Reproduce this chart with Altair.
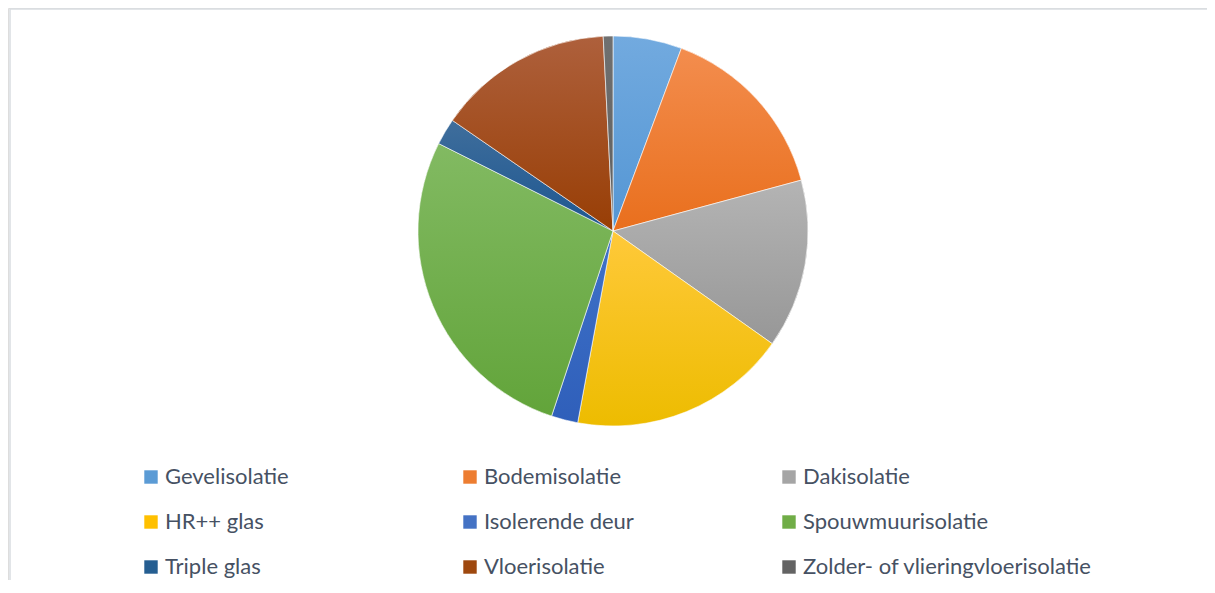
import altair as alt
import pandas as pd

categories = ["Gevelisolatie", "Bodemisolatie", "Dakisolatie", "HR++ glas", "Isolerende deur",
              "Spouwmuurisolatie", "Triple glas", "Vloerisolatie", "Zolder- of vlieringvloerisolatie"]
values = [5.7, 15.1, 14.0, 18.1, 2.2, 27.3, 2.2, 14.6, 0.8]
colors = ["#5B9BD5", "#ED7D31", "#A5A5A5", "#FFC000", "#4472C4", "#70AD47", "#255E91", "#9E480E", "#636363"]
top_colors = ["#72AADF", "#F38D4E", "#B4B4B4", "#FFC93A", "#3F72C8", "#82BA62", "#3F6E9C", "#AE603C", "#707070"]
bottom_colors = ["#5496D4", "#E96F1D", "#979797", "#EDBC00", "#2F5FBA", "#62A43A", "#1D5690", "#983E05", "#5E5E5E"]

total = sum(values)
df = pd.DataFrame({"categorie": categories, "waarde": values, "volgorde": list(range(len(categories)))})

CX, CY, R = 605, 223, 195

base = (
    alt.Chart(df)
    .transform_window(eind="sum(waarde)", sort=[alt.SortField("volgorde")], frame=[None, 0])
    .transform_calculate(begin="datum.eind - datum.waarde")
)
theta = alt.Theta("begin:Q", scale=alt.Scale(domain=[0, total]))
theta2 = alt.Theta2("eind:Q")

legend_layer = base.mark_arc(radius=R, stroke="white", strokeWidth=0.6).encode(
    theta=theta,
    theta2=theta2,
    x=alt.value(CX),
    y=alt.value(CY),
    color=alt.Color(
        "categorie:N",
        scale=alt.Scale(domain=categories, range=colors),
        sort=categories,
        legend=alt.Legend(
            title=None,
            orient="none",
            legendX=132,
            legendY=458,
            columns=3,
            direction="horizontal",
            gridAlign="all",
            columnPadding=5,
            rowPadding=23,
            symbolType="square",
            symbolSize=180,
            symbolStrokeWidth=0,
            labelFont="Lato",
            labelFontSize=22,
            labelColor="#465163",
            labelOffset=3,
            labelLimit=400,
        ),
    ),
)

layers = [legend_layer]
for cat, c_top, c_bot in zip(categories, top_colors, bottom_colors):
    grad = alt.Gradient(
        gradient="linear",
        stops=[alt.GradientStop(color=c_top, offset=0), alt.GradientStop(color=c_bot, offset=1)],
        x1=0, x2=0, y1=0, y2=1,
    )
    layers.append(
        base.transform_filter(alt.datum.categorie == cat)
        .mark_arc(radius=R, fill=grad, stroke="white", strokeWidth=0.6)
        .encode(theta=theta, theta2=theta2, x=alt.value(CX), y=alt.value(CY))
    )

frame_df = pd.DataFrame({"a": [0]})
top_rule = alt.Chart(frame_df).mark_rule(color="#D9DCE1", strokeWidth=1.5).encode(
    x=alt.value(2), x2=alt.value(3000), y=alt.value(1)
)
left_rule = alt.Chart(frame_df).mark_rule(color="#D9DCE1", strokeWidth=1.5).encode(
    x=alt.value(2), y=alt.value(1), y2=alt.value(3000)
)
layers += [top_rule, left_rule]

chart = (
    alt.layer(*layers)
    .properties(width=1199, height=572, autosize=alt.AutoSizeParams(type="none"), padding=0)
    .configure_view(stroke=None)
    .configure(background="white")
)

chart.save("out.html", embed_options={"renderer": "svg", "actions": False})
